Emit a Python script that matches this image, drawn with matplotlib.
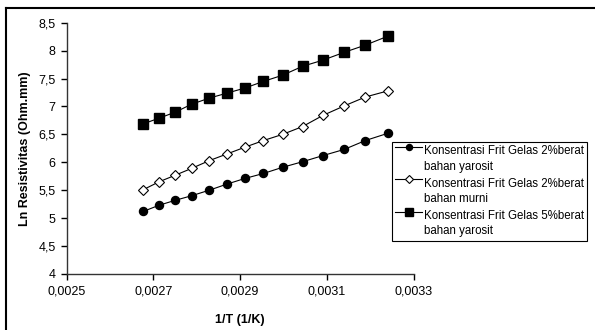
import matplotlib
matplotlib.use("Agg")
import matplotlib.pyplot as plt
from matplotlib.lines import Line2D
from matplotlib.legend_handler import HandlerLine2D

plt.rcParams['font.family'] = ['Liberation Sans', 'DejaVu Sans']

# 1/T values (1/K)
inv_T = [0.002677, 0.002713, 0.002751, 0.002788, 0.002829, 0.002870, 0.002911,
         0.002954, 0.002998, 0.003044, 0.003091, 0.003140, 0.003189, 0.003241]

# Ln resistivity for each sample
ln_2_yarosit = [5.12, 5.23, 5.32, 5.40, 5.50, 5.61, 5.71, 5.80, 5.91, 6.01, 6.12, 6.23, 6.39, 6.52]
ln_2_murni = [5.51, 5.65, 5.77, 5.89, 6.03, 6.15, 6.27, 6.39, 6.50, 6.64, 6.84, 7.01, 7.17, 7.28]
ln_5_yarosit = [6.69, 6.79, 6.90, 7.04, 7.15, 7.24, 7.33, 7.45, 7.56, 7.72, 7.83, 7.97, 8.10, 8.26]

labels = ["Konsentrasi Frit Gelas 2%berat\nbahan yarosit",
          "Konsentrasi Frit Gelas 2%berat\nbahan murni",
          "Konsentrasi Frit Gelas 5%berat\nbahan yarosit"]

xticks = [0.0025, 0.0027, 0.0029, 0.0031, 0.0033]
xticklabels = ["0,0025", "0,0027", "0,0029", "0,0031", "0,0033"]
yticks = [4, 4.5, 5, 5.5, 6, 6.5, 7, 7.5, 8, 8.5]
yticklabels = ["4", "4,5", "5", "5,5", "6", "6,5", "7", "7,5", "8", "8,5"]


# legend handle sits on the first text line, like excel does
class TopHandler(HandlerLine2D):
    def create_artists(self, legend, orig_handle, xdescent, ydescent,
                       width, height, fontsize, trans):
        return super().create_artists(legend, orig_handle, xdescent,
                                      ydescent - 18, width, height,
                                      fontsize, trans)


fig = plt.figure(figsize=(5.95, 3.3), dpi=100)
ax = fig.add_axes([0.112, 0.17, 0.583, 0.761])

ax.plot(inv_T, ln_2_yarosit, color='black', lw=0.8, marker='o', ms=5.8,
        mfc='black', mec='black', label=labels[0])
ax.plot(inv_T, ln_2_murni, color='black', lw=0.8, marker='D', ms=5.2,
        mfc='white', mec='black', mew=0.8, label=labels[1])
ax.plot(inv_T, ln_5_yarosit, color='black', lw=0.8, marker='s', ms=7.5,
        mfc='black', mec='black', label=labels[2])

ax.set_xlim(0.0025, 0.0033)
ax.set_ylim(4, 8.5)
ax.set_xticks(xticks)
ax.set_xticklabels(xticklabels)
ax.set_yticks(yticks)
ax.set_yticklabels(yticklabels)
ax.tick_params(direction='out', length=4, width=1, labelsize=9, colors='black', pad=4)
ax.spines['top'].set_visible(False)
ax.spines['right'].set_visible(False)
for s in ['left', 'bottom']:
    ax.spines[s].set_linewidth(1)
    ax.spines[s].set_color('#333333')

ax.set_xlabel("1/T (1/K)", fontsize=9, fontweight='bold', labelpad=12)
ax.set_ylabel("Ln Resistivitas (Ohm.mm)", fontsize=9, fontweight='bold', labelpad=5)

leg = ax.legend(loc='upper left', bbox_to_anchor=(392 / 595, 1 - 142 / 330),
                bbox_transform=fig.transFigure, fontsize=8.3, frameon=True,
                fancybox=False, edgecolor='black', framealpha=1,
                handlelength=2.3, handletextpad=0.15, borderpad=0.3,
                labelspacing=0.45, borderaxespad=0, markerscale=0.75,
                handler_map={Line2D: TopHandler()})
leg.get_frame().set_linewidth(0.8)
for t in leg.get_texts():
    t.set_linespacing(1.35)

# outer frame (top and left edges visible)
fig.add_artist(Line2D([6 / 595, 1], [1 - 7.5 / 330, 1 - 7.5 / 330],
                      transform=fig.transFigure, color='black', lw=1.5))
fig.add_artist(Line2D([6 / 595, 6 / 595], [0, 1 - 7.5 / 330],
                      transform=fig.transFigure, color='black', lw=1.5))

fig.savefig("out.png", dpi=100)
